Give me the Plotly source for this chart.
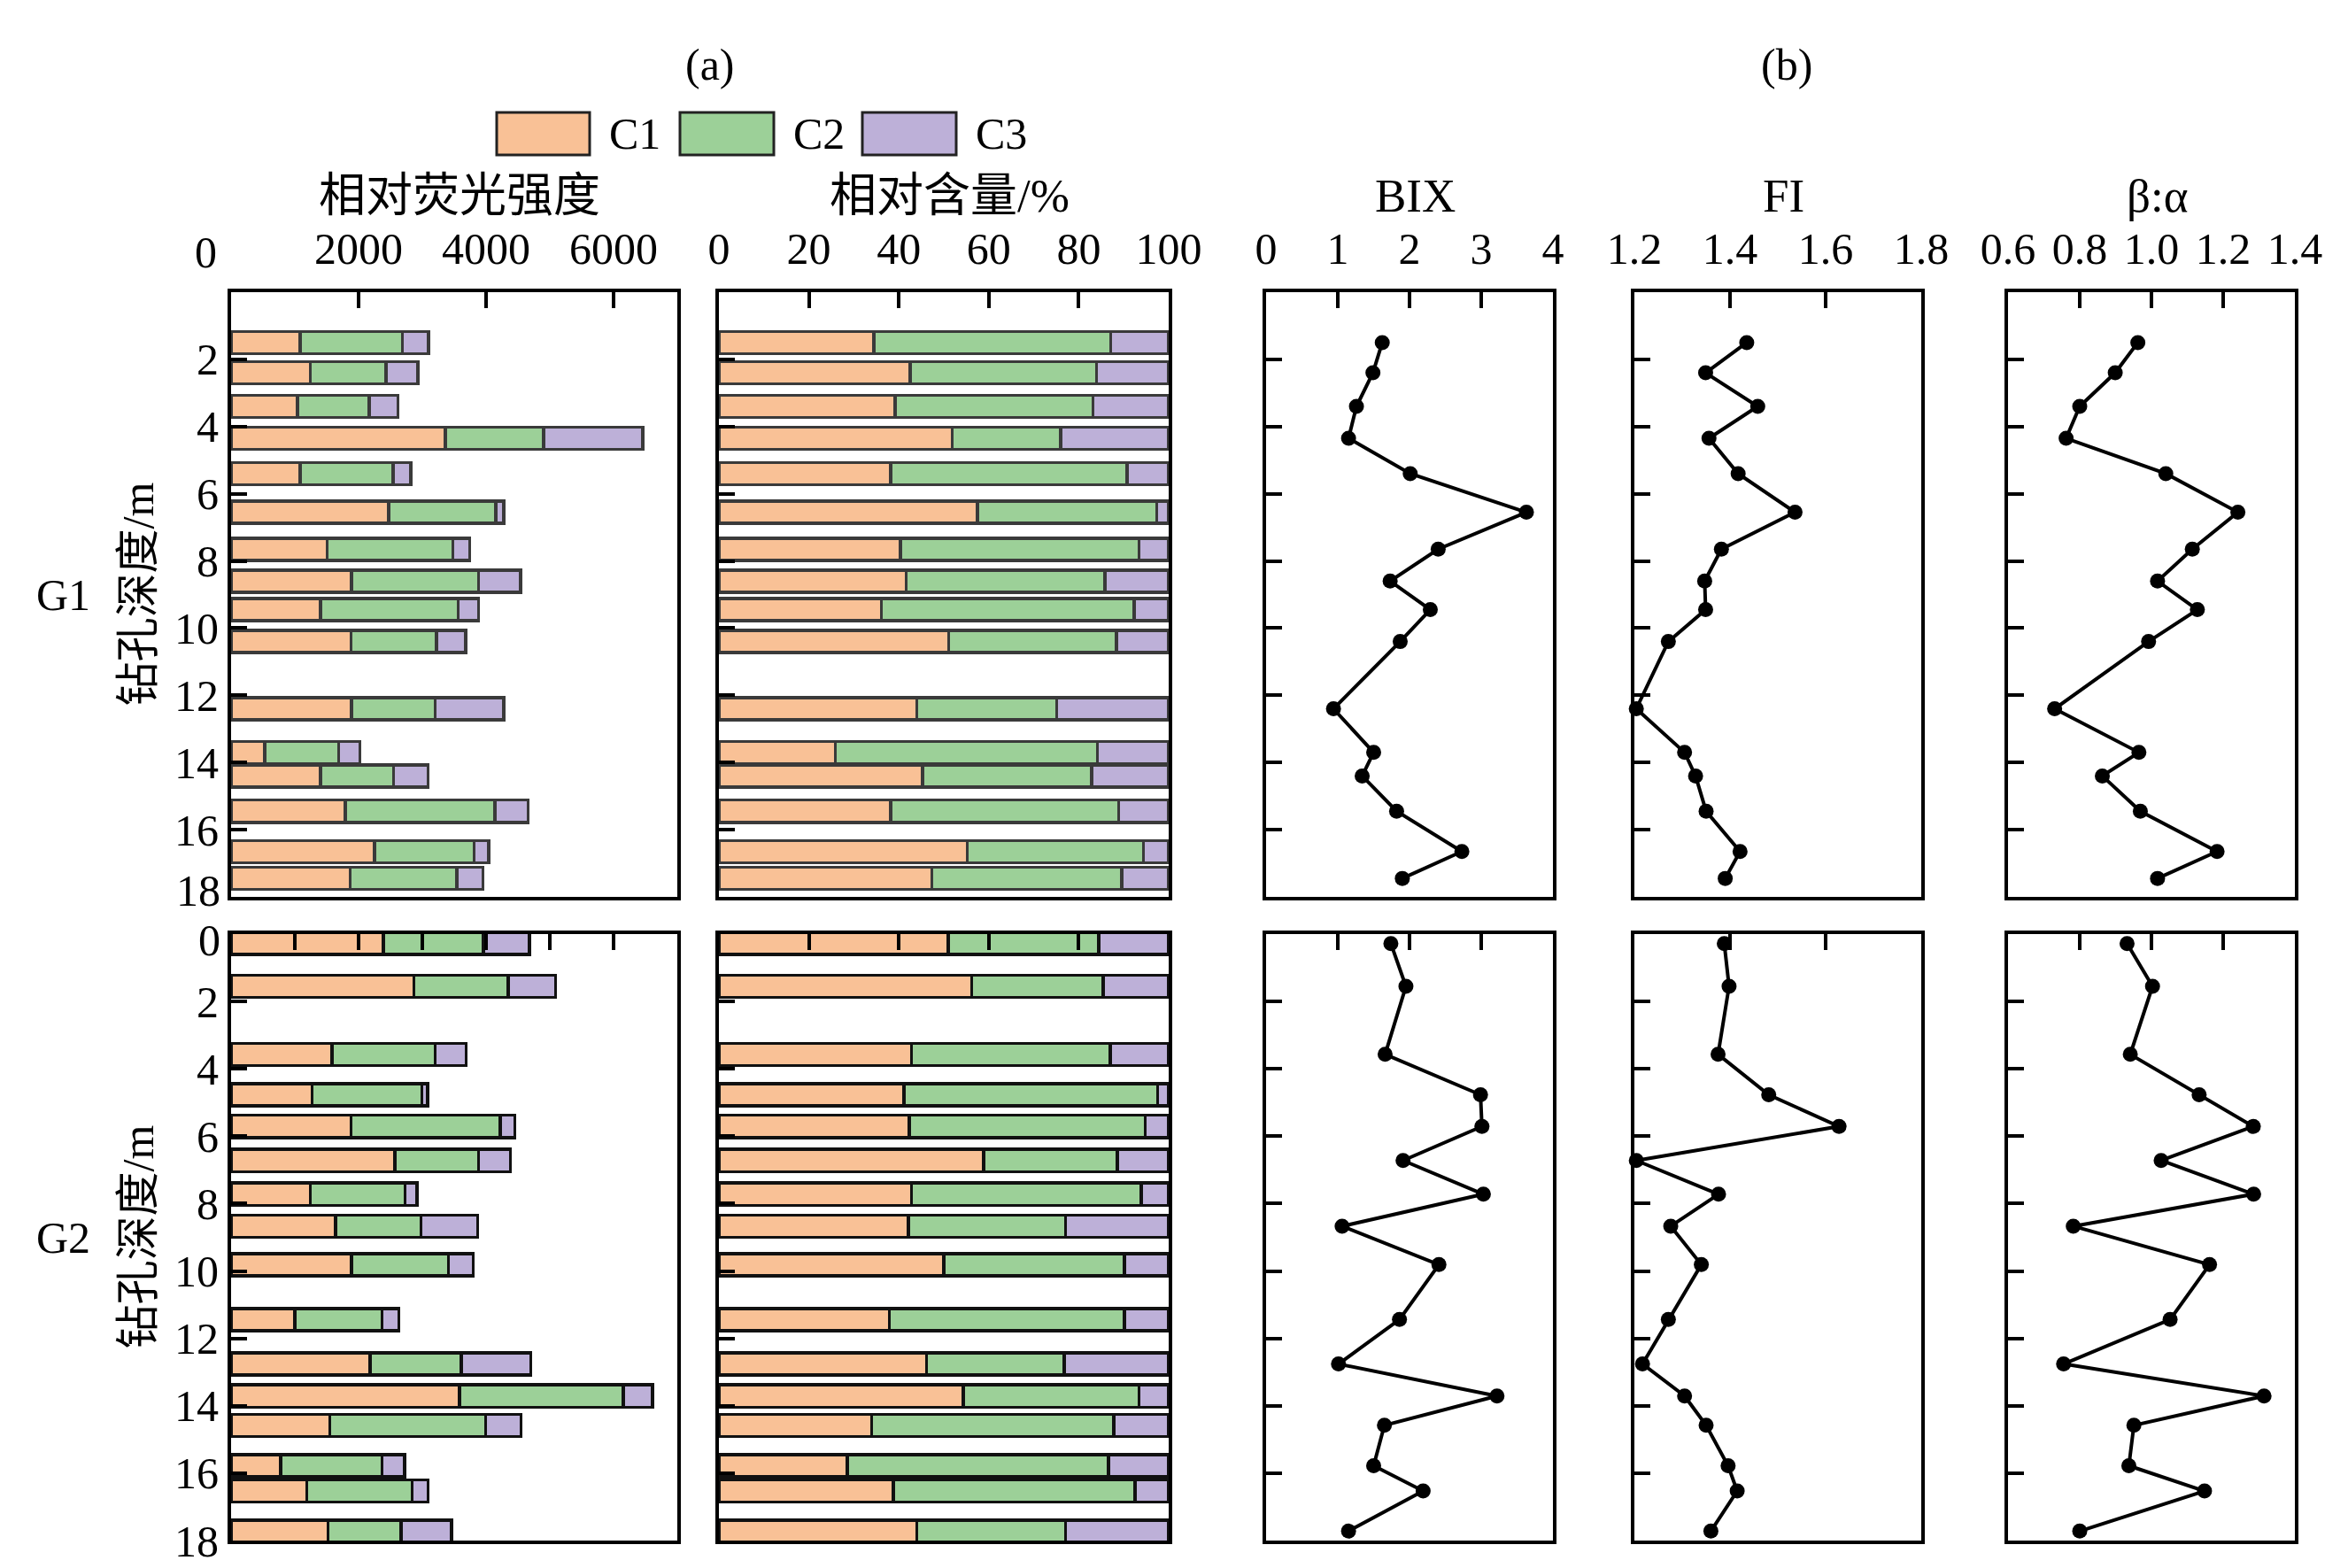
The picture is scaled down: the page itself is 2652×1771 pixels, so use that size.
import plotly.graph_objects as go

# ---------------- data ----------------
depth_G1 = [1.5, 2.4, 3.4, 4.35, 5.4, 6.55, 7.65, 8.6, 9.45, 10.4, 12.4, 13.7, 14.4, 15.45, 16.65, 17.45]
depth_G2 = [0.28, 1.55, 3.57, 4.77, 5.71, 6.72, 7.72, 8.67, 9.81, 11.44, 12.76, 13.71, 14.58, 15.78, 16.53, 17.72]

c1_int_G1 = [1080, 1240, 1040, 3360, 1080, 2470, 1510, 1890, 1400, 1880, 1890, 530, 1400, 1790, 2250, 1870]
c2_int_G1 = [1610, 1190, 1130, 1540, 1460, 1680, 1970, 1990, 2160, 1340, 1310, 1160, 1150, 2350, 1560, 1670]
c3_int_G1 = [410, 500, 450, 1560, 280, 130, 260, 660, 320, 460, 1080, 330, 540, 520, 230, 410]

c1_pct_G1 = [34.4, 42.5, 39.2, 51.9, 38.2, 57.5, 40.4, 41.6, 36.1, 51.1, 44.0, 25.9, 45.3, 38.2, 55.2, 47.3]
c2_pct_G1 = [52.7, 41.5, 44.0, 24.1, 52.5, 39.8, 53.0, 44.2, 56.2, 37.3, 31.1, 58.3, 37.6, 50.7, 39.2, 42.3]
c3_pct_G1 = [12.9, 16.0, 16.8, 24.0, 9.3, 2.7, 6.6, 14.2, 7.7, 11.6, 24.9, 15.8, 17.1, 11.1, 5.6, 10.4]

c1_int_G2 = [2390, 2870, 1580, 1270, 1880, 2570, 1240, 1640, 1890, 1000, 2180, 3580, 1550, 780, 1190, 1520]
c2_int_G2 = [1570, 1480, 1620, 1720, 2340, 1310, 1490, 1340, 1520, 1370, 1430, 2570, 2440, 1590, 1650, 1150]
c3_int_G2 = [720, 740, 490, 90, 230, 500, 190, 890, 390, 260, 1090, 460, 560, 350, 250, 790]

c1_pct_G2 = [51.0, 56.2, 42.8, 41.1, 42.3, 58.9, 42.8, 42.1, 50.0, 37.9, 46.2, 54.3, 34.0, 28.5, 38.8, 44.0]
c2_pct_G2 = [33.4, 29.2, 44.2, 56.4, 52.5, 29.7, 51.1, 35.0, 40.2, 52.3, 30.6, 39.1, 53.8, 58.1, 53.7, 33.1]
c3_pct_G2 = [15.6, 14.6, 13.0, 2.5, 5.2, 11.4, 6.1, 22.9, 9.8, 9.8, 23.2, 6.6, 12.2, 13.4, 7.5, 22.9]

bix_G1 = [1.62, 1.49, 1.26, 1.15, 2.01, 3.63, 2.40, 1.73, 2.29, 1.87, 0.94, 1.50, 1.34, 1.82, 2.73, 1.90]
fi_G1 = [1.435, 1.349, 1.458, 1.356, 1.417, 1.536, 1.382, 1.347, 1.349, 1.271, 1.204, 1.305, 1.328, 1.350, 1.421, 1.390]
ba_G1 = [0.962, 0.899, 0.800, 0.762, 1.040, 1.241, 1.114, 1.017, 1.128, 0.992, 0.730, 0.965, 0.863, 0.969, 1.183, 1.017]

bix_G2 = [1.74, 1.95, 1.66, 2.99, 3.01, 1.91, 3.03, 1.06, 2.41, 1.86, 1.01, 3.22, 1.65, 1.50, 2.19, 1.15]
fi_G2 = [1.388, 1.398, 1.375, 1.481, 1.628, 1.204, 1.376, 1.276, 1.340, 1.271, 1.217, 1.305, 1.350, 1.396, 1.415, 1.360]
ba_G2 = [0.932, 1.003, 0.941, 1.133, 1.284, 1.027, 1.285, 0.782, 1.162, 1.052, 0.755, 1.314, 0.951, 0.937, 1.148, 0.800]

depth_ticks = [0, 2, 4, 6, 8, 10, 12, 14, 16, 18]
component_names = ["C1", "C2", "C3"]
panel_titles = ["相对荧光强度", "相对含量/%", "BIX", "FI", "β:α"]
row_labels = ["G1", "G2"]
depth_title = "钻孔深度/m"

# ---------------- style ----------------
W, H = 2652, 1771
FONT = "Liberation Serif, 'Noto Sans CJK SC', serif"
FS = 50
TFS = 53
COLORS = ["#F9C196", "#9CD098", "#BDB0D8"]
OUTLINE = ["#3a3a3a", "#111111"]

col_px = [(261, 765), (812, 1320), (1430, 1754), (1846, 2170), (2268, 2592)]
row_px = [(330, 1013), (1055, 1740)]
LABEL_RIGHT = 251


def px_x(p):
    return p / W


def px_y(p):
    return 1 - p / H


x_ranges = [[0, 7000], [0, 100], [0, 4], [1.2, 1.8], [0.6, 1.4]]
x_tickvals = [[0, 2000, 4000, 6000], [0, 20, 40, 60, 80, 100], [0, 1, 2, 3, 4],
              [1.2, 1.4, 1.6, 1.8], [0.6, 0.8, 1.0, 1.2, 1.4]]
x_ticktext = [["", "2000", "4000", "6000"], ["0", "20", "40", "60", "80", "100"],
              ["0", "1", "2", "3", "4"], ["1.2", "1.4", "1.6", "1.8"],
              ["0.6", "0.8", "1.0", "1.2", "1.4"]]

fig = go.Figure()
layout = dict(width=W, height=H, margin=dict(l=0, r=0, t=0, b=0, pad=0, autoexpand=False),
              paper_bgcolor="white", plot_bgcolor="white",
              barmode="stack", showlegend=False,
              font=dict(family=FONT, size=FS, color="black"))

depths = [depth_G1, depth_G2]
ints = [[c1_int_G1, c2_int_G1, c3_int_G1], [c1_int_G2, c2_int_G2, c3_int_G2]]
pcts = [[c1_pct_G1, c2_pct_G1, c3_pct_G1], [c1_pct_G2, c2_pct_G2, c3_pct_G2]]
idx = [[bix_G1, fi_G1, ba_G1], [bix_G2, fi_G2, ba_G2]]

for r in range(2):
    for c in range(5):
        i = r * 5 + c + 1
        sx = "" if i == 1 else str(i)
        xref, yref = "x" + sx, "y" + sx
        if c == 0 and r == 1:
            tv = list(range(0, 7001, 1000))
            tt = [""] * len(tv)
        else:
            tv = x_tickvals[c]
            tt = x_ticktext[c]
        layout["xaxis" + sx] = dict(
            domain=[px_x(col_px[c][0]), px_x(col_px[c][1])], range=x_ranges[c],
            anchor=yref, side="top", ticks="inside", ticklen=18, tickwidth=4,
            tickcolor="black", showline=True, linewidth=4, linecolor="black",
            mirror=True, showgrid=False, zeroline=False, automargin=False,
            tickmode="array", tickvals=tv, ticktext=tt, ticklabeloverflow="allow",
            showticklabels=(r == 0), tickfont=dict(family=FONT, size=FS),
            ticklabelstandoff=8)
        # the two labels at the junction of the rows are drawn separately below
        yt = [str(v) for v in depth_ticks]
        if r == 0:
            yt[0] = ""
            yt[-1] = ""
        else:
            yt[0] = ""
        layout["yaxis" + sx] = dict(
            domain=[px_y(row_px[r][1]), px_y(row_px[r][0])], range=[18, 0],
            anchor=xref, ticks="inside", ticklen=18, tickwidth=4,
            tickcolor="black", showline=True, linewidth=4, linecolor="black",
            mirror=True, showgrid=False, zeroline=False, automargin=False,
            tickmode="array", tickvals=depth_ticks, ticktext=yt,
            ticklabeloverflow="allow",
            showticklabels=(c == 0), tickfont=dict(family=FONT, size=FS),
            ticklabelstandoff=0)

        if c in (0, 1):
            data = ints[r] if c == 0 else pcts[r]
            for k in range(3):
                fig.add_trace(go.Bar(
                    x=data[k], y=depths[r], orientation="h", width=0.66,
                    name=component_names[k], xaxis=xref, yaxis=yref,
                    marker=dict(color=COLORS[k], line=dict(color=OUTLINE[r], width=3.5))))
        else:
            fig.add_trace(go.Scatter(
                x=idx[r][c - 2], y=depths[r], mode="lines+markers",
                xaxis=xref, yaxis=yref, cliponaxis=False,
                line=dict(color="black", width=4),
                marker=dict(color="black", size=17)))

annotations = []
for c in range(5):
    annotations.append(dict(x=px_x((col_px[c][0] + col_px[c][1]) / 2 + 6), y=px_y(221),
                            xref="paper", yref="paper", text=panel_titles[c],
                            showarrow=False, xanchor="center", yanchor="middle",
                            font=dict(family=FONT, size=TFS)))
annotations.append(dict(x=px_x(233), y=px_y(285), xref="paper", yref="paper", text="0",
                        showarrow=False, xanchor="center", yanchor="middle",
                        font=dict(family=FONT, size=FS)))
# depth labels at the junction of the two rows (slightly separated)
annotations.append(dict(x=px_x(LABEL_RIGHT), y=px_y(row_px[0][1] - 7), xref="paper", yref="paper",
                        text=str(depth_ticks[-1]), showarrow=False, xanchor="right",
                        yanchor="middle", font=dict(family=FONT, size=FS)))
annotations.append(dict(x=px_x(LABEL_RIGHT), y=px_y(row_px[1][0] + 7), xref="paper", yref="paper",
                        text=str(depth_ticks[0]), showarrow=False, xanchor="right",
                        yanchor="middle", font=dict(family=FONT, size=FS)))
annotations.append(dict(x=px_x(802), y=px_y(73), xref="paper", yref="paper", text="(a)",
                        showarrow=False, xanchor="center", yanchor="middle",
                        font=dict(family=FONT, size=FS)))
annotations.append(dict(x=px_x(2018), y=px_y(73), xref="paper", yref="paper", text="(b)",
                        showarrow=False, xanchor="center", yanchor="middle",
                        font=dict(family=FONT, size=FS)))
for r in range(2):
    yc = px_y((row_px[r][0] + row_px[r][1]) / 2)
    annotations.append(dict(x=px_x(71), y=yc, xref="paper", yref="paper", text=row_labels[r],
                            showarrow=False, xanchor="center", yanchor="middle",
                            font=dict(family=FONT, size=FS)))
    annotations.append(dict(x=px_x(155), y=yc, xref="paper", yref="paper", text=depth_title,
                            showarrow=False, textangle=-90, xanchor="center", yanchor="middle",
                            font=dict(family=FONT, size=FS)))

shapes = []
box_x = [(561, 666), (768, 874), (974, 1080)]
for k in range(3):
    shapes.append(dict(type="rect", xref="paper", yref="paper",
                       x0=px_x(box_x[k][0]), x1=px_x(box_x[k][1]),
                       y0=px_y(175), y1=px_y(127),
                       fillcolor=COLORS[k], line=dict(color="#222222", width=3)))
    annotations.append(dict(x=px_x(box_x[k][1] + 20), y=px_y(151), xref="paper", yref="paper",
                            text=component_names[k], showarrow=False, xanchor="left",
                            yanchor="middle", font=dict(family=FONT, size=FS)))

layout["annotations"] = annotations
layout["shapes"] = shapes
fig.update_layout(**layout)
fig.write_html("out.html", config={"displayModeBar": False},
               post_script="document.body.style.margin='0';document.body.style.overflow='hidden';")
